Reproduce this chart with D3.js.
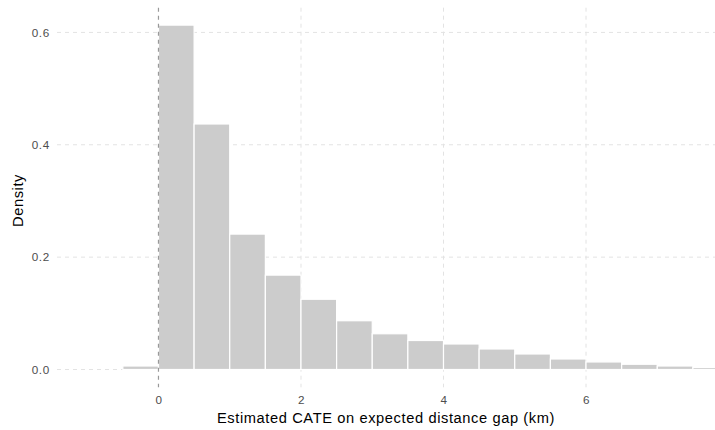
<!DOCTYPE html>
<html>
<head>
<meta charset="utf-8">
<script src="https://cdn.jsdelivr.net/npm/d3@7"></script>
<style>
  body { margin: 0; background: #fff; }
  text { font-family: "Liberation Sans", Arial, sans-serif; }
</style>
</head>
<body>
<div id="chart"></div>
<script>
// histogram bins (width 0.5) and density
const binStarts = [-0.5, 0, 0.5, 1, 1.5, 2, 2.5, 3, 3.5, 4, 4.5, 5, 5.5, 6, 6.5, 7, 7.5];
const densities = [0.0062, 0.613, 0.437, 0.241, 0.168, 0.125, 0.0868, 0.0636, 0.0516,
  0.0454, 0.0365, 0.0276, 0.0187, 0.0134, 0.0093, 0.0062, 0.0036];
const binWidth = 0.5;
const xTicks = [0, 2, 4, 6];
const yTicks = [0, 0.2, 0.4, 0.6];

const bins = binStarts.map((x0, i) => ({ x0, x1: x0 + binWidth, density: densities[i] }));

const W = 715, H = 430;
const panel = { left: 57, right: 715, top: 7.7, bottom: 387.3 };

const x = d3.scaleLinear().domain([-1.424, 7.81]).range([panel.left, panel.right]);
const y = d3.scaleLinear().domain([-0.0317, 0.644]).range([panel.bottom, panel.top]);

const svg = d3.select("#chart").append("svg")
  .attr("width", W)
  .attr("height", H);

svg.append("clipPath").attr("id", "panel-clip")
  .append("rect")
  .attr("x", panel.left).attr("y", panel.top)
  .attr("width", panel.right - panel.left)
  .attr("height", panel.bottom - panel.top);

const grid = svg.append("g")
  .attr("stroke", "#e3e3e3")
  .attr("stroke-width", 1)
  .attr("stroke-dasharray", "4,4");

grid.selectAll("line.hgrid")
  .data(yTicks)
  .join("line")
  .attr("class", "hgrid")
  .attr("x1", panel.left).attr("x2", panel.right)
  .attr("y1", d => y(d)).attr("y2", d => y(d));

grid.selectAll("line.vgrid")
  .data(xTicks.filter(d => d !== 0))
  .join("line")
  .attr("class", "vgrid")
  .attr("x1", d => x(d)).attr("x2", d => x(d))
  .attr("y1", panel.top).attr("y2", panel.bottom);

svg.append("g")
  .attr("clip-path", "url(#panel-clip)")
  .selectAll("rect")
  .data(bins)
  .join("rect")
  .attr("x", d => x(d.x0))
  .attr("width", d => x(d.x1) - x(d.x0))
  .attr("y", d => y(d.density))
  .attr("height", d => y(0) - y(d.density))
  .attr("fill", "#cccccc")
  .attr("stroke", "#ffffff")
  .attr("stroke-width", 1.2);

// reference line at zero
svg.append("line")
  .attr("x1", x(0)).attr("x2", x(0))
  .attr("y1", panel.top).attr("y2", panel.bottom)
  .attr("stroke", "#999999")
  .attr("stroke-width", 1.2)
  .attr("stroke-dasharray", "4,4");

const styleTicks = g => g.selectAll("text")
  .attr("font-size", 11.7)
  .attr("letter-spacing", 0.7)
  .attr("fill", "#4d4d4d")
  .attr("font-family", "Liberation Sans, Arial, sans-serif");

const xAxis = d3.axisBottom(x).tickValues(xTicks).tickSize(0).tickPadding(0)
  .tickFormat(d3.format("d"));
svg.append("g")
  .attr("transform", `translate(0,${panel.bottom + 8.5})`)
  .call(xAxis)
  .call(g => g.select(".domain").remove())
  .call(styleTicks);

const yAxis = d3.axisLeft(y).tickValues(yTicks).tickSize(0).tickPadding(0)
  .tickFormat(d3.format(".1f"));
svg.append("g")
  .attr("transform", `translate(${panel.left - 7},0)`)
  .call(yAxis)
  .call(g => g.select(".domain").remove())
  .call(styleTicks);

svg.append("text")
  .attr("x", (panel.left + panel.right) / 2)
  .attr("y", 423)
  .attr("text-anchor", "middle")
  .attr("font-size", 14.67)
  .attr("letter-spacing", 0.6)
  .attr("fill", "#000")
  .text("Estimated CATE on expected distance gap (km)");

svg.append("text")
  .attr("transform", `translate(23,${(panel.top + panel.bottom) / 2 + 3}) rotate(-90)`)
  .attr("text-anchor", "middle")
  .attr("font-size", 14.67)
  .attr("letter-spacing", 0.6)
  .attr("fill", "#000")
  .text("Density");
</script>
</body>
</html>
